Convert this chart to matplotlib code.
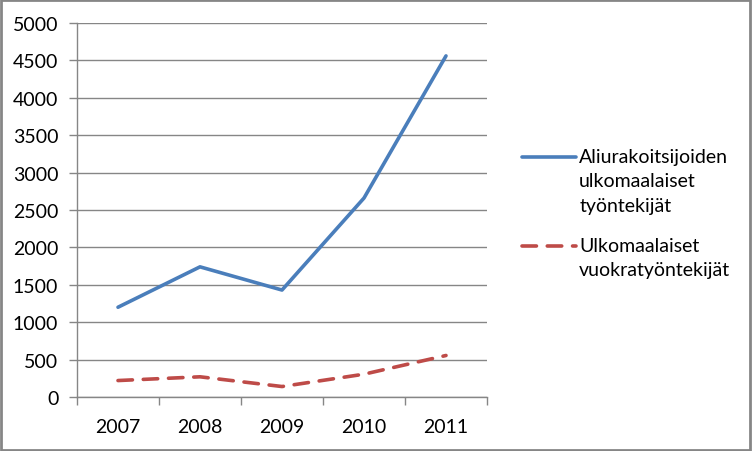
import matplotlib
matplotlib.use("Agg")
import numpy as np
import matplotlib.pyplot as plt
from matplotlib.patches import Rectangle
from matplotlib.legend_handler import HandlerLine2D

# data
years = ["2007", "2008", "2009", "2010", "2011"]
aliurakoitsijat = [1200, 1740, 1430, 2660, 4560]
vuokratyontekijat = [220, 270, 140, 305, 555]
y_ticks = [0, 500, 1000, 1500, 2000, 2500, 3000, 3500, 4000, 4500, 5000]
labels = ["Aliurakoitsijoiden\nulkomaalaiset\ntyöntekijät",
          "Ulkomaalaiset\nvuokratyöntekijät"]

plt.rcParams["font.family"] = ["Lato", "DejaVu Sans"]
grid_color = "#868686"
fs = 14


class TopLineHandler(HandlerLine2D):
    # put the legend line next to the first text line, not the middle
    def __init__(self, shift, **kw):
        super().__init__(**kw)
        self.shift = shift

    def create_artists(self, legend, orig_handle, xdescent, ydescent,
                       width, height, fontsize, trans):
        artists = super().create_artists(legend, orig_handle, xdescent, ydescent,
                                         width, height, fontsize, trans)
        for a in artists:
            a.set_ydata(np.asarray(a.get_ydata()) + self.shift)
        return artists


fig = plt.figure(figsize=(7.52, 4.52), dpi=100)
ax = fig.add_axes([77 / 752, 54 / 452, 410 / 752, 374 / 452])

x = list(range(1, len(years) + 1))
blue, = ax.plot(x, aliurakoitsijat, color="#4A7EBB", linewidth=2.6,
                solid_capstyle="round", label=labels[0])
red, = ax.plot(x, vuokratyontekijat, color="#BE4B48", linewidth=2.6,
               dashes=(4, 3), dash_capstyle="round", label=labels[1])

ax.set_xlim(0.5, len(years) + 0.5)
ax.set_ylim(0, 5000)
ax.set_yticks(y_ticks)
ax.yaxis.grid(True, color=grid_color, linewidth=1)
ax.set_axisbelow(True)

# ticks on category borders, labels in the middle
ax.set_xticks([i + 0.5 for i in range(len(years) + 1)])
ax.set_xticklabels([])
ax.set_xticks(x, minor=True)
ax.set_xticklabels(years, minor=True)
ax.tick_params(axis="x", which="major", length=5.5, color=grid_color, width=1)
ax.tick_params(axis="x", which="minor", length=0, pad=15, labelsize=fs)
ax.tick_params(axis="y", length=5.5, color=grid_color, width=1, pad=8,
               labelsize=fs)

for side in ["top", "right"]:
    ax.spines[side].set_visible(False)
for side in ["left", "bottom"]:
    ax.spines[side].set_color(grid_color)
    ax.spines[side].set_linewidth(1)

pitch = 24 * 72 / 100  # one text line, in points
leg = ax.legend(loc="upper left", bbox_to_anchor=(514 / 752, 1 - 141 / 452),
                bbox_transform=fig.transFigure, frameon=False, fontsize=fs,
                handlelength=2.8, handletextpad=0.15, labelspacing=1.15,
                borderaxespad=0,
                handler_map={blue: TopLineHandler(pitch),
                             red: TopLineHandler(pitch / 2)})
for t in leg.get_texts():
    t.set_linespacing(1.55)

# outer frame of the chart
fig.patches.append(Rectangle((0.001, 0.002), 0.997, 0.995, transform=fig.transFigure,
                             fill=False, edgecolor=grid_color, linewidth=2))

fig.savefig("out.png", dpi=100)
